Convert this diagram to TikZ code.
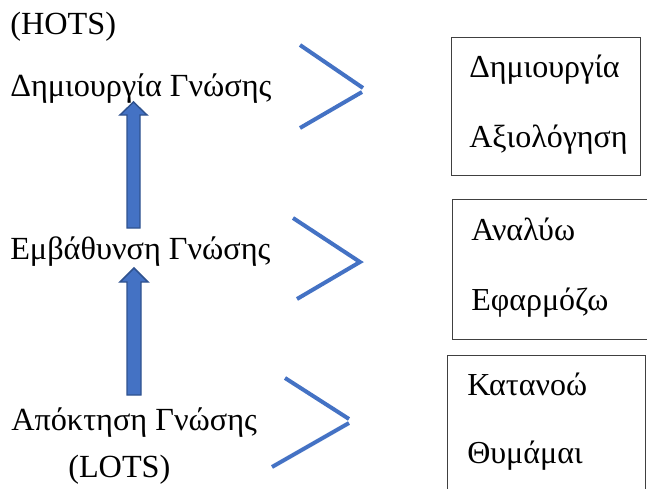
\documentclass[tikz,border=0pt]{standalone}
\usepackage{fontspec}
\setmainfont{Liberation Serif}
\definecolor{arrowblue}{HTML}{4472C4}
\definecolor{arrowedge}{HTML}{2F528F}
\definecolor{boxedge}{HTML}{404040}
\begin{document}
\begin{tikzpicture}[x=0.75pt,y=-0.75pt,
  lefttext/.style={anchor=base west,inner sep=0pt,font=\fontsize{24.2}{29}\selectfont},
  boxtext/.style={anchor=base west,inner sep=0pt,font=\fontsize{24}{29}\selectfont},
  levelbox/.style={draw=boxedge,line width=1.1pt,anchor=north west,inner sep=0pt},
  chevron/.style={draw=arrowblue,line width=3pt},
  blockarrow/.style={fill=arrowblue,draw=arrowedge,line width=1.1pt,line join=miter}]
\useasboundingbox (0,0) rectangle (647,489);

% level labels on the left
\node[lefttext] (hots) at (10,35) {(HOTS)};
\node[lefttext] (create) at (10,96) {Δημιουργία Γνώσης};
\node[lefttext] (deepen) at (10,259) {Εμβάθυνση Γνώσης};
\node[lefttext] (acquire) at (11,430) {Απόκτηση Γνώσης};
\node[lefttext] (lots) at (68,477) {(LOTS)};

% upward block arrows between the levels
\coordinate (a1tip) at (133.5,102);
\coordinate (a1base) at (133.5,228);
\coordinate (a2tip) at (134,268);
\coordinate (a2base) at (134,395);
\path[blockarrow] (a1tip) -- ++(13.5,13) -- ++(-7,0) |- (a1base) -- ++(-6.5,0) -- ++(0,-113) -- ++(-7,0) -- cycle;
\path[blockarrow] (a2tip) -- ++(14,14) -- ++(-7,0) |- (a2base) -- ++(-7,0) -- ++(0,-113) -- ++(-7,0) -- cycle;

% chevrons pointing to the boxes
\coordinate (c1a) at (300,45);  \coordinate (c1b) at (363,88);
\coordinate (c1c) at (362,92);  \coordinate (c1d) at (300,128);
\draw[chevron] (c1a) -- (c1b);
\draw[chevron] (c1c) -- (c1d);
\coordinate (c2a) at (293,218); \coordinate (c2b) at (360,262);
\coordinate (c2d) at (297,299);
\draw[chevron,line join=miter] (c2a) -- (c2b) -- (c2d);
\coordinate (c3a) at (285,378); \coordinate (c3b) at (349,419);
\coordinate (c3c) at (349,423); \coordinate (c3d) at (272,467);
\draw[chevron] (c3a) -- (c3b);
\draw[chevron] (c3c) -- (c3d);

% boxes with the verbs of each level
\node[levelbox,minimum width=141.75pt,minimum height=103.5pt] (box1) at (451,37) {};
\node[levelbox,minimum width=152pt,minimum height=105pt] (box2) at (452,199) {};
\node[levelbox,minimum width=148.5pt,minimum height=110pt] (box3) at (447,355) {};

\node[boxtext] (v1) at (469,77) {Δημιουργία};
\node[boxtext] (v2) at (469,147) {Αξιολόγηση};
\node[boxtext] (v3) at (471,240) {Αναλύω};
\node[boxtext] (v4) at (471,310) {Εφαρμόζω};
\node[boxtext] (v5) at (467,395) {Κατανοώ};
\node[boxtext] (v6) at (467,463) {Θυμάμαι};
\end{tikzpicture}
\end{document}
